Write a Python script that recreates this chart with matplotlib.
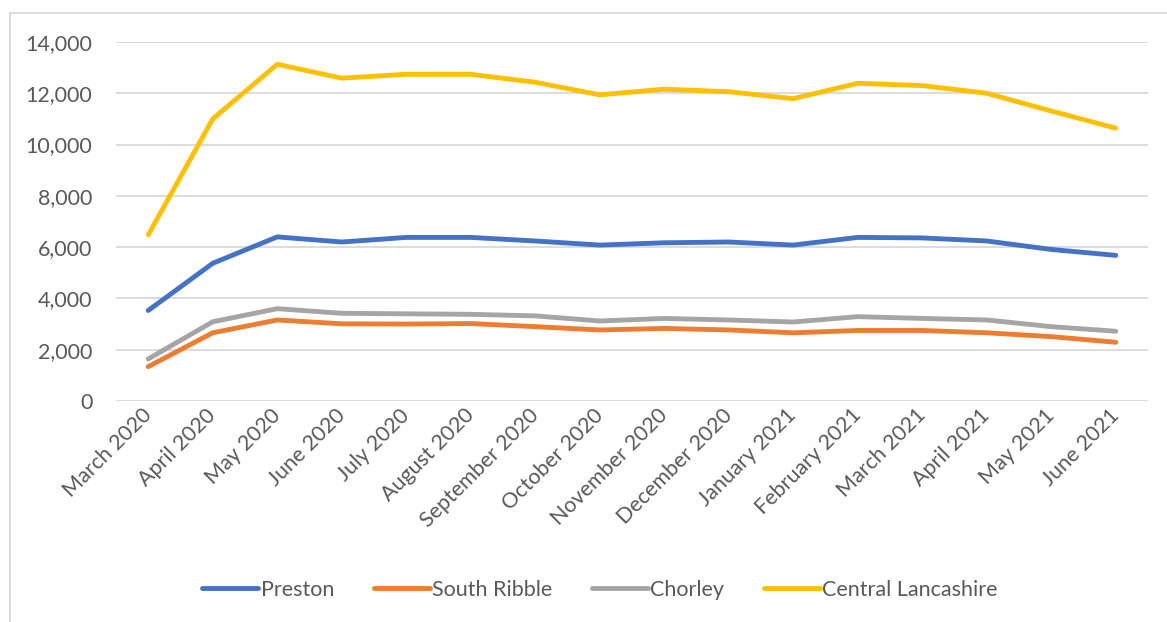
import matplotlib
matplotlib.use("Agg")
import matplotlib.pyplot as plt
from matplotlib.patches import Rectangle
from matplotlib.ticker import FuncFormatter

months = ["March 2020", "April 2020", "May 2020", "June 2020", "July 2020",
          "August 2020", "September 2020", "October 2020", "November 2020",
          "December 2020", "January 2021", "February 2021", "March 2021",
          "April 2021", "May 2021", "June 2021"]

preston = [3530, 5370, 6400, 6200, 6380, 6380, 6240, 6080, 6170, 6200,
           6080, 6380, 6360, 6240, 5910, 5680]
south_ribble = [1340, 2660, 3160, 3010, 3000, 3020, 2900, 2770, 2830, 2770,
                2660, 2750, 2750, 2660, 2510, 2290]
chorley = [1640, 3090, 3600, 3420, 3400, 3380, 3320, 3120, 3220, 3160,
           3080, 3290, 3220, 3160, 2900, 2720]
central_lancashire = [6480, 11000, 13130, 12590, 12740, 12740, 12430, 11940,
                      12160, 12060, 11790, 12390, 12300, 12000, 11310, 10640]

series = [("Preston", preston, "#4472C4"),
          ("South Ribble", south_ribble, "#ED7D31"),
          ("Chorley", chorley, "#A5A5A5"),
          ("Central Lancashire", central_lancashire, "#FFC000")]

y_ticks = list(range(0, 14001, 2000))

W, H = 1167, 622
fig = plt.figure(figsize=(W / 100, H / 100), dpi=100)
plt.rcParams['font.family'] = ['Lato', 'DejaVu Sans']

# chart area frame
fig.patches.append(Rectangle((10 / W, -0.1), 1.2, 1 - 13 / H + 0.1,
                             transform=fig.transFigure, fill=False,
                             edgecolor="#D9D9D9", lw=1.3, zorder=0))

ax = fig.add_axes([116 / W, 1 - 401 / H, (1148 - 116) / W, (401 - 42) / H])
x = list(range(len(months)))
for name, vals, col in series:
    ax.plot(x, vals, color=col, lw=3.5, solid_capstyle="round",
            solid_joinstyle="round", label=name)

ax.set_xlim(-0.5, len(months) - 0.5)
ax.set_ylim(0, 14000)
ax.set_yticks(y_ticks)
ax.yaxis.set_major_formatter(FuncFormatter(lambda v, p: f"{int(v):,}"))
ax.grid(axis="y", color="#D9D9D9", lw=1.3)
ax.set_axisbelow(True)
for s in ax.spines.values():
    s.set_visible(False)
ax.tick_params(axis="both", length=0, labelsize=15.5, labelcolor="#595959")
ax.tick_params(axis="y", pad=17)
ax.tick_params(axis="x", pad=8)
ax.set_xticks(x)
ax.set_xticklabels(months, rotation=45, ha="right", va="center",
                   rotation_mode="anchor")

leg = fig.legend(loc="center", bbox_to_anchor=(600 / W, 1 - 590 / H),
                 ncol=4, frameon=False, fontsize=15.5, handlelength=2.6,
                 handletextpad=0.1, columnspacing=1.85)
for t in leg.get_texts():
    t.set_color("#595959")

fig.savefig("out.png", dpi=100)
